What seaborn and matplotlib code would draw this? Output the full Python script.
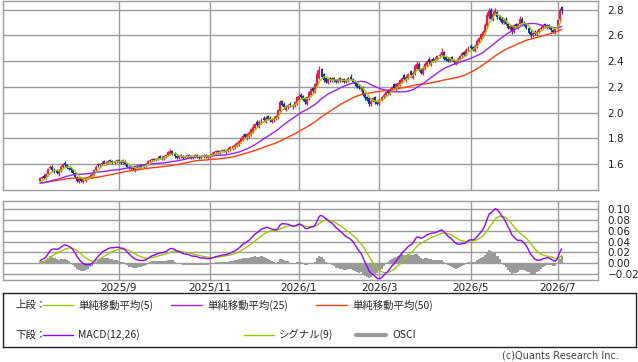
import numpy as np
import pandas as pd
import matplotlib
matplotlib.use("Agg")
import matplotlib.pyplot as plt
import seaborn as sns

# ---------------- data (daily candles) ----------------
# closes before the first drawn candle (only used to warm up the indicators;
# level estimated from where the moving averages start)
prior_close = [
    1.45, 1.44, 1.45, 1.46, 1.45, 1.44, 1.44, 1.45, 1.46, 1.45,
    1.45, 1.44, 1.45, 1.46, 1.46, 1.45, 1.44, 1.45, 1.45, 1.46,
    1.45, 1.45, 1.46, 1.45,
]

open_ = [
    1.47, 1.49, 1.51, 1.49, 1.52, 1.57, 1.58, 1.56, 1.55, 1.52,
    1.55, 1.58, 1.61, 1.59, 1.57, 1.57, 1.55, 1.53, 1.50, 1.46,
    1.49, 1.46, 1.47, 1.49, 1.50, 1.50, 1.52, 1.55, 1.60, 1.59,
    1.60, 1.62, 1.60, 1.61, 1.63, 1.62, 1.61, 1.62, 1.63, 1.62,
    1.61, 1.62, 1.60, 1.58, 1.56, 1.57, 1.55, 1.58, 1.57, 1.59,
    1.58, 1.59, 1.60, 1.62, 1.63, 1.64, 1.63, 1.64, 1.66, 1.65,
    1.64, 1.66, 1.67, 1.68, 1.70, 1.68, 1.66, 1.65, 1.67, 1.66,
    1.65, 1.66, 1.67, 1.66, 1.65, 1.66, 1.67, 1.66, 1.65, 1.66,
    1.67, 1.65, 1.66, 1.67, 1.68, 1.69, 1.70, 1.69, 1.70, 1.71,
    1.69, 1.70, 1.71, 1.72, 1.73, 1.74, 1.75, 1.77, 1.79, 1.83,
    1.80, 1.81, 1.83, 1.85, 1.88, 1.93, 1.89, 1.92, 1.96, 1.93,
    1.97, 1.96, 1.93, 1.94, 1.95, 1.96, 2.01, 2.09, 2.07, 2.02,
    2.04, 2.07, 2.04, 2.05, 2.07, 2.10, 2.14, 2.13, 2.11, 2.07,
    2.11, 2.14, 2.19, 2.16, 2.21, 2.27, 2.34, 2.30, 2.27, 2.23,
    2.27, 2.25, 2.27, 2.25, 2.24, 2.27, 2.25, 2.26, 2.24, 2.25,
    2.28, 2.26, 2.24, 2.23, 2.21, 2.18, 2.20, 2.15, 2.12, 2.11,
    2.07, 2.09, 2.12, 2.09, 2.07, 2.10, 2.12, 2.14, 2.17, 2.15,
    2.17, 2.22, 2.18, 2.20, 2.22, 2.24, 2.29, 2.25, 2.27, 2.32,
    2.27, 2.30, 2.34, 2.38, 2.34, 2.30, 2.34, 2.37, 2.42, 2.37,
    2.42, 2.40, 2.42, 2.44, 2.45, 2.47, 2.43, 2.42, 2.40, 2.43,
    2.41, 2.38, 2.40, 2.42, 2.44, 2.47, 2.45, 2.49, 2.52, 2.51,
    2.48, 2.51, 2.55, 2.57, 2.59, 2.62, 2.67, 2.74, 2.80, 2.72,
    2.77, 2.78, 2.75, 2.73, 2.70, 2.73, 2.69, 2.65, 2.67, 2.63,
    2.69, 2.66, 2.69, 2.73, 2.70, 2.69, 2.66, 2.63, 2.60, 2.63,
    2.61, 2.63, 2.65, 2.66, 2.69, 2.66, 2.68, 2.66, 2.64, 2.62,
    2.66, 2.73, 2.82,
]
high = [
    1.50, 1.51, 1.52, 1.53, 1.57, 1.59, 1.59, 1.57, 1.56, 1.56,
    1.59, 1.61, 1.62, 1.60, 1.58, 1.58, 1.56, 1.54, 1.51, 1.49,
    1.50, 1.49, 1.50, 1.51, 1.52, 1.53, 1.56, 1.59, 1.61, 1.61,
    1.62, 1.63, 1.62, 1.63, 1.64, 1.63, 1.63, 1.64, 1.64, 1.63,
    1.64, 1.63, 1.61, 1.59, 1.58, 1.58, 1.58, 1.59, 1.59, 1.60,
    1.60, 1.61, 1.63, 1.64, 1.65, 1.65, 1.65, 1.66, 1.67, 1.66,
    1.67, 1.68, 1.70, 1.72, 1.71, 1.69, 1.67, 1.67, 1.68, 1.67,
    1.67, 1.68, 1.68, 1.67, 1.67, 1.68, 1.68, 1.67, 1.67, 1.68,
    1.68, 1.67, 1.68, 1.69, 1.70, 1.71, 1.71, 1.71, 1.72, 1.72,
    1.72, 1.73, 1.74, 1.75, 1.76, 1.77, 1.79, 1.81, 1.83, 1.84,
    1.84, 1.86, 1.88, 1.91, 1.92, 1.94, 1.94, 1.96, 1.97, 1.97,
    1.98, 1.97, 1.96, 1.97, 1.98, 2.03, 2.10, 2.10, 2.08, 2.06,
    2.07, 2.08, 2.07, 2.09, 2.13, 2.15, 2.15, 2.14, 2.12, 2.13,
    2.17, 2.19, 2.20, 2.23, 2.33, 2.36, 2.35, 2.31, 2.28, 2.27,
    2.28, 2.28, 2.28, 2.26, 2.27, 2.28, 2.27, 2.27, 2.26, 2.28,
    2.30, 2.27, 2.25, 2.24, 2.22, 2.21, 2.21, 2.16, 2.13, 2.12,
    2.11, 2.12, 2.13, 2.10, 2.11, 2.13, 2.15, 2.17, 2.18, 2.19,
    2.21, 2.23, 2.23, 2.24, 2.26, 2.28, 2.30, 2.29, 2.31, 2.33,
    2.32, 2.38, 2.40, 2.39, 2.35, 2.36, 2.39, 2.41, 2.43, 2.42,
    2.43, 2.43, 2.45, 2.46, 2.50, 2.48, 2.44, 2.43, 2.43, 2.44,
    2.42, 2.41, 2.43, 2.45, 2.47, 2.48, 2.50, 2.52, 2.53, 2.52,
    2.53, 2.57, 2.59, 2.62, 2.64, 2.70, 2.78, 2.81, 2.81, 2.79,
    2.81, 2.79, 2.76, 2.74, 2.73, 2.74, 2.70, 2.68, 2.68, 2.69,
    2.70, 2.70, 2.75, 2.74, 2.71, 2.70, 2.67, 2.64, 2.63, 2.64,
    2.64, 2.66, 2.67, 2.69, 2.70, 2.69, 2.69, 2.67, 2.65, 2.66,
    2.73, 2.81, 2.83,
]
low = [
    1.46, 1.48, 1.48, 1.48, 1.51, 1.56, 1.54, 1.53, 1.52, 1.51,
    1.54, 1.57, 1.58, 1.56, 1.55, 1.54, 1.52, 1.49, 1.46, 1.45,
    1.46, 1.45, 1.46, 1.48, 1.49, 1.49, 1.51, 1.54, 1.58, 1.58,
    1.59, 1.59, 1.59, 1.60, 1.61, 1.60, 1.60, 1.61, 1.61, 1.60,
    1.60, 1.59, 1.57, 1.56, 1.55, 1.55, 1.54, 1.56, 1.56, 1.57,
    1.57, 1.58, 1.59, 1.61, 1.62, 1.62, 1.62, 1.63, 1.64, 1.63,
    1.63, 1.65, 1.66, 1.67, 1.67, 1.65, 1.64, 1.64, 1.65, 1.64,
    1.64, 1.65, 1.65, 1.64, 1.64, 1.65, 1.65, 1.64, 1.64, 1.65,
    1.65, 1.64, 1.65, 1.66, 1.67, 1.68, 1.68, 1.68, 1.69, 1.69,
    1.68, 1.69, 1.70, 1.71, 1.72, 1.73, 1.74, 1.76, 1.78, 1.80,
    1.79, 1.80, 1.82, 1.84, 1.87, 1.89, 1.88, 1.91, 1.93, 1.92,
    1.94, 1.93, 1.92, 1.93, 1.94, 1.95, 2.00, 2.05, 2.03, 2.01,
    2.03, 2.04, 2.03, 2.04, 2.06, 2.09, 2.11, 2.09, 2.07, 2.06,
    2.10, 2.13, 2.15, 2.15, 2.20, 2.26, 2.27, 2.24, 2.23, 2.22,
    2.24, 2.24, 2.24, 2.23, 2.23, 2.24, 2.24, 2.23, 2.23, 2.24,
    2.25, 2.23, 2.21, 2.19, 2.18, 2.17, 2.13, 2.10, 2.09, 2.05,
    2.05, 2.08, 2.07, 2.06, 2.06, 2.09, 2.11, 2.13, 2.14, 2.14,
    2.16, 2.18, 2.17, 2.19, 2.21, 2.23, 2.25, 2.24, 2.26, 2.28,
    2.26, 2.29, 2.33, 2.32, 2.30, 2.29, 2.33, 2.36, 2.38, 2.36,
    2.39, 2.39, 2.41, 2.43, 2.44, 2.41, 2.40, 2.39, 2.39, 2.40,
    2.38, 2.37, 2.39, 2.41, 2.43, 2.44, 2.44, 2.48, 2.49, 2.48,
    2.47, 2.50, 2.54, 2.56, 2.58, 2.61, 2.66, 2.73, 2.72, 2.71,
    2.76, 2.73, 2.71, 2.69, 2.69, 2.68, 2.65, 2.64, 2.61, 2.62,
    2.66, 2.65, 2.68, 2.69, 2.67, 2.65, 2.61, 2.58, 2.59, 2.60,
    2.60, 2.62, 2.64, 2.65, 2.66, 2.65, 2.65, 2.63, 2.62, 2.61,
    2.65, 2.72, 2.77,
]
close = [
    1.49, 1.50, 1.49, 1.52, 1.56, 1.58, 1.55, 1.54, 1.53, 1.55,
    1.58, 1.60, 1.59, 1.57, 1.56, 1.55, 1.53, 1.50, 1.47, 1.48,
    1.47, 1.48, 1.49, 1.50, 1.51, 1.52, 1.55, 1.58, 1.59, 1.60,
    1.61, 1.60, 1.61, 1.62, 1.62, 1.61, 1.62, 1.63, 1.62, 1.61,
    1.63, 1.60, 1.58, 1.57, 1.57, 1.56, 1.57, 1.57, 1.58, 1.58,
    1.59, 1.60, 1.62, 1.63, 1.64, 1.63, 1.64, 1.65, 1.65, 1.64,
    1.66, 1.67, 1.69, 1.70, 1.68, 1.66, 1.65, 1.66, 1.66, 1.65,
    1.66, 1.67, 1.66, 1.65, 1.66, 1.67, 1.66, 1.65, 1.66, 1.67,
    1.66, 1.66, 1.67, 1.68, 1.69, 1.70, 1.69, 1.70, 1.71, 1.70,
    1.71, 1.72, 1.73, 1.74, 1.75, 1.76, 1.78, 1.80, 1.82, 1.81,
    1.83, 1.84, 1.87, 1.89, 1.91, 1.90, 1.93, 1.95, 1.94, 1.96,
    1.95, 1.94, 1.95, 1.96, 1.97, 2.02, 2.08, 2.06, 2.04, 2.05,
    2.06, 2.05, 2.06, 2.08, 2.12, 2.13, 2.12, 2.10, 2.08, 2.12,
    2.16, 2.18, 2.17, 2.22, 2.30, 2.33, 2.28, 2.25, 2.24, 2.26,
    2.25, 2.27, 2.25, 2.24, 2.26, 2.25, 2.26, 2.24, 2.25, 2.27,
    2.26, 2.24, 2.22, 2.20, 2.19, 2.20, 2.14, 2.11, 2.10, 2.07,
    2.09, 2.11, 2.08, 2.07, 2.10, 2.12, 2.14, 2.16, 2.15, 2.18,
    2.20, 2.19, 2.22, 2.23, 2.25, 2.27, 2.26, 2.28, 2.30, 2.29,
    2.31, 2.36, 2.38, 2.33, 2.31, 2.35, 2.38, 2.40, 2.39, 2.41,
    2.40, 2.42, 2.44, 2.45, 2.47, 2.42, 2.41, 2.40, 2.42, 2.41,
    2.39, 2.40, 2.42, 2.44, 2.46, 2.45, 2.49, 2.51, 2.50, 2.49,
    2.52, 2.56, 2.58, 2.61, 2.63, 2.68, 2.76, 2.79, 2.73, 2.77,
    2.79, 2.74, 2.72, 2.70, 2.72, 2.69, 2.66, 2.67, 2.63, 2.68,
    2.67, 2.69, 2.73, 2.70, 2.68, 2.66, 2.62, 2.60, 2.62, 2.61,
    2.63, 2.65, 2.66, 2.68, 2.67, 2.68, 2.66, 2.64, 2.63, 2.65,
    2.72, 2.80, 2.79,
]

tick_pos = [38, 82, 125, 164, 208, 250]
tick_labels = ["2025/9", "2025/11", "2026/1", "2026/3", "2026/5", "2026/7"]
price_ticks = [1.6, 1.8, 2.0, 2.2, 2.4, 2.6, 2.8]
macd_ticks = [-0.02, 0.00, 0.02, 0.04, 0.06, 0.08, 0.10]
macd_tick_labels = ["\u22120.02", "0.00", "0.02", "0.04", "0.06", "0.08", "0.10"]

# ---------------- derived indicators ----------------
df = pd.DataFrame({"open": open_, "high": high, "low": low, "close": close})
df["idx"] = np.arange(len(df))

n_prior = len(prior_close)
full = pd.Series(list(prior_close) + list(close), dtype=float)
ma5 = full.rolling(5, min_periods=1).mean()
ma25 = full.rolling(25, min_periods=1).mean()
ma50 = full.rolling(50, min_periods=1).mean()
ema12 = full.ewm(span=12, adjust=False).mean()
ema26 = full.ewm(span=26, adjust=False).mean()
macd = ema12 - ema26
signal = macd.ewm(span=9, adjust=False).mean()

df["ma5"] = ma5.iloc[n_prior:].to_numpy()
df["ma25"] = ma25.iloc[n_prior:].to_numpy()
df["ma50"] = ma50.iloc[n_prior:].to_numpy()
df["macd"] = macd.iloc[n_prior:].to_numpy()
df["signal"] = signal.iloc[n_prior:].to_numpy()
df["osci"] = df["macd"] - df["signal"]

# ---------------- style ----------------
sns.set_style("white")
plt.rcParams["font.family"] = ["DejaVu Sans", "Noto Sans CJK JP"]
JP = ["Noto Sans CJK JP", "DejaVu Sans"]

UP = "#f2194a"
DOWN = "#0c3d96"
C_MA5 = "#99cc00"
C_MA25 = "#9922ff"
C_MA50 = "#ff3d0a"
C_GRID = "#9c9c9c"
C_OSCI = "#9a9a9a"

W, H = 638, 362
fig = plt.figure(figsize=(W / 100, H / 100), dpi=100)
fig.patch.set_facecolor("white")


def rect(x0, y0, x1, y1):
    return [x0 / W, 1 - y1 / H, (x1 - x0) / W, (y1 - y0) / H]


XL = ((3 - 40) / 2.07, (598 - 40) / 2.07)

ax1 = fig.add_axes(rect(3, 0.5, 598, 190))
ax2 = fig.add_axes(rect(3, 201, 598, 280))

for ax in (ax1, ax2):
    ax.set_facecolor("white")
    ax.set_axisbelow(True)
    ax.grid(True, color=C_GRID, linewidth=1)
    for s in ax.spines.values():
        s.set_color(C_GRID)
        s.set_linewidth(1)
    ax.yaxis.tick_right()
    ax.tick_params(length=0, labelsize=7.5, colors="#222222")
    ax.set_xticks(tick_pos)
    ax.set_xlim(*XL)

# ---- candles ----
up = df["close"] >= df["open"]
cols = np.where(up, UP, DOWN)
body_lo = np.minimum(df["open"], df["close"])
body_h = np.maximum(np.abs(df["close"] - df["open"]), 0.005)
ax1.vlines(df["idx"], df["low"], df["high"], colors=cols, linewidth=0.9, zorder=2)
ax1.bar(df["idx"], body_h, bottom=body_lo, width=0.95, color=cols,
        linewidth=0, zorder=2)

sns.lineplot(data=df, x="idx", y="ma50", ax=ax1, color=C_MA50, linewidth=1,
             estimator=None, zorder=3)
sns.lineplot(data=df, x="idx", y="ma25", ax=ax1, color=C_MA25, linewidth=1,
             estimator=None, zorder=3)
sns.lineplot(data=df, x="idx", y="ma5", ax=ax1, color=C_MA5, linewidth=1,
             estimator=None, zorder=4)

ax1.set_ylim(1.398, 2.872)
ax1.set_yticks(price_ticks)
ax1.set_yticklabels([f"{v:.1f}" for v in price_ticks])
ax1.tick_params(axis="y", pad=7)
ax1.tick_params(axis="x", labelbottom=False)
ax1.set_xlabel("")
ax1.set_ylabel("")

# ---- MACD panel ----
ax2.bar(df["idx"], df["osci"], width=1.0, color=C_OSCI, linewidth=0, zorder=2)
sns.lineplot(data=df, x="idx", y="signal", ax=ax2, color=C_MA5, linewidth=1,
             estimator=None, zorder=3)
sns.lineplot(data=df, x="idx", y="macd", ax=ax2, color="#9900ff", linewidth=1,
             estimator=None, zorder=4)
ax2.set_ylim(-0.0311, 0.1148)
ax2.set_yticks(macd_ticks)
ax2.set_yticklabels(macd_tick_labels)
ax2.set_xticks(tick_pos)
ax2.set_xticklabels(tick_labels)
ax2.tick_params(axis="y", pad=7)
ax2.tick_params(axis="x", pad=2)
ax2.set_xlabel("")
ax2.set_ylabel("")
ax2.set_xlim(*XL)
ax1.set_xlim(*XL)

# ---- legend box ----
axl = fig.add_axes(rect(3, 293, 636, 347))
axl.set_xlim(3, 636)
axl.set_ylim(347, 293)
axl.set_xticks([])
axl.set_yticks([])
for s in axl.spines.values():
    s.set_color("#222222")
    s.set_linewidth(1)

fs = 7.5
r1, r2 = 305, 335
axl.text(15, r1, "上段：", fontsize=fs, family=JP, va="center", ha="left")
axl.plot([43, 73], [r1, r1], color=C_MA5, lw=1)
axl.text(78, r1, "単純移動平均(5)", fontsize=fs, family=JP, va="center")
axl.plot([171, 202], [r1, r1], color=C_MA25, lw=1)
axl.text(207, r1, "単純移動平均(25)", fontsize=fs, family=JP, va="center")
axl.plot([316, 347], [r1, r1], color=C_MA50, lw=1)
axl.text(352, r1, "単純移動平均(50)", fontsize=fs, family=JP, va="center")

axl.text(15, r2, "下段：", fontsize=fs, family=JP, va="center", ha="left")
axl.plot([43, 73], [r2, r2], color="#9900ff", lw=1)
axl.text(78, r2, "MACD(12,26)", fontsize=fs, family=JP, va="center")
axl.plot([244, 274], [r2, r2], color=C_MA5, lw=1)
axl.text(279, r2, "シグナル(9)", fontsize=fs, family=JP, va="center")
axl.plot([356, 386], [r2, r2], color=C_OSCI, lw=3)
axl.text(392, r2, "OSCI", fontsize=fs, family=JP, va="center")

fig.text(619 / W, 1 - 356 / H, "(c)Quants Research Inc.", fontsize=7,
         ha="right", va="center", color="#444444")

fig.savefig("out.png", dpi=100, facecolor="white")
